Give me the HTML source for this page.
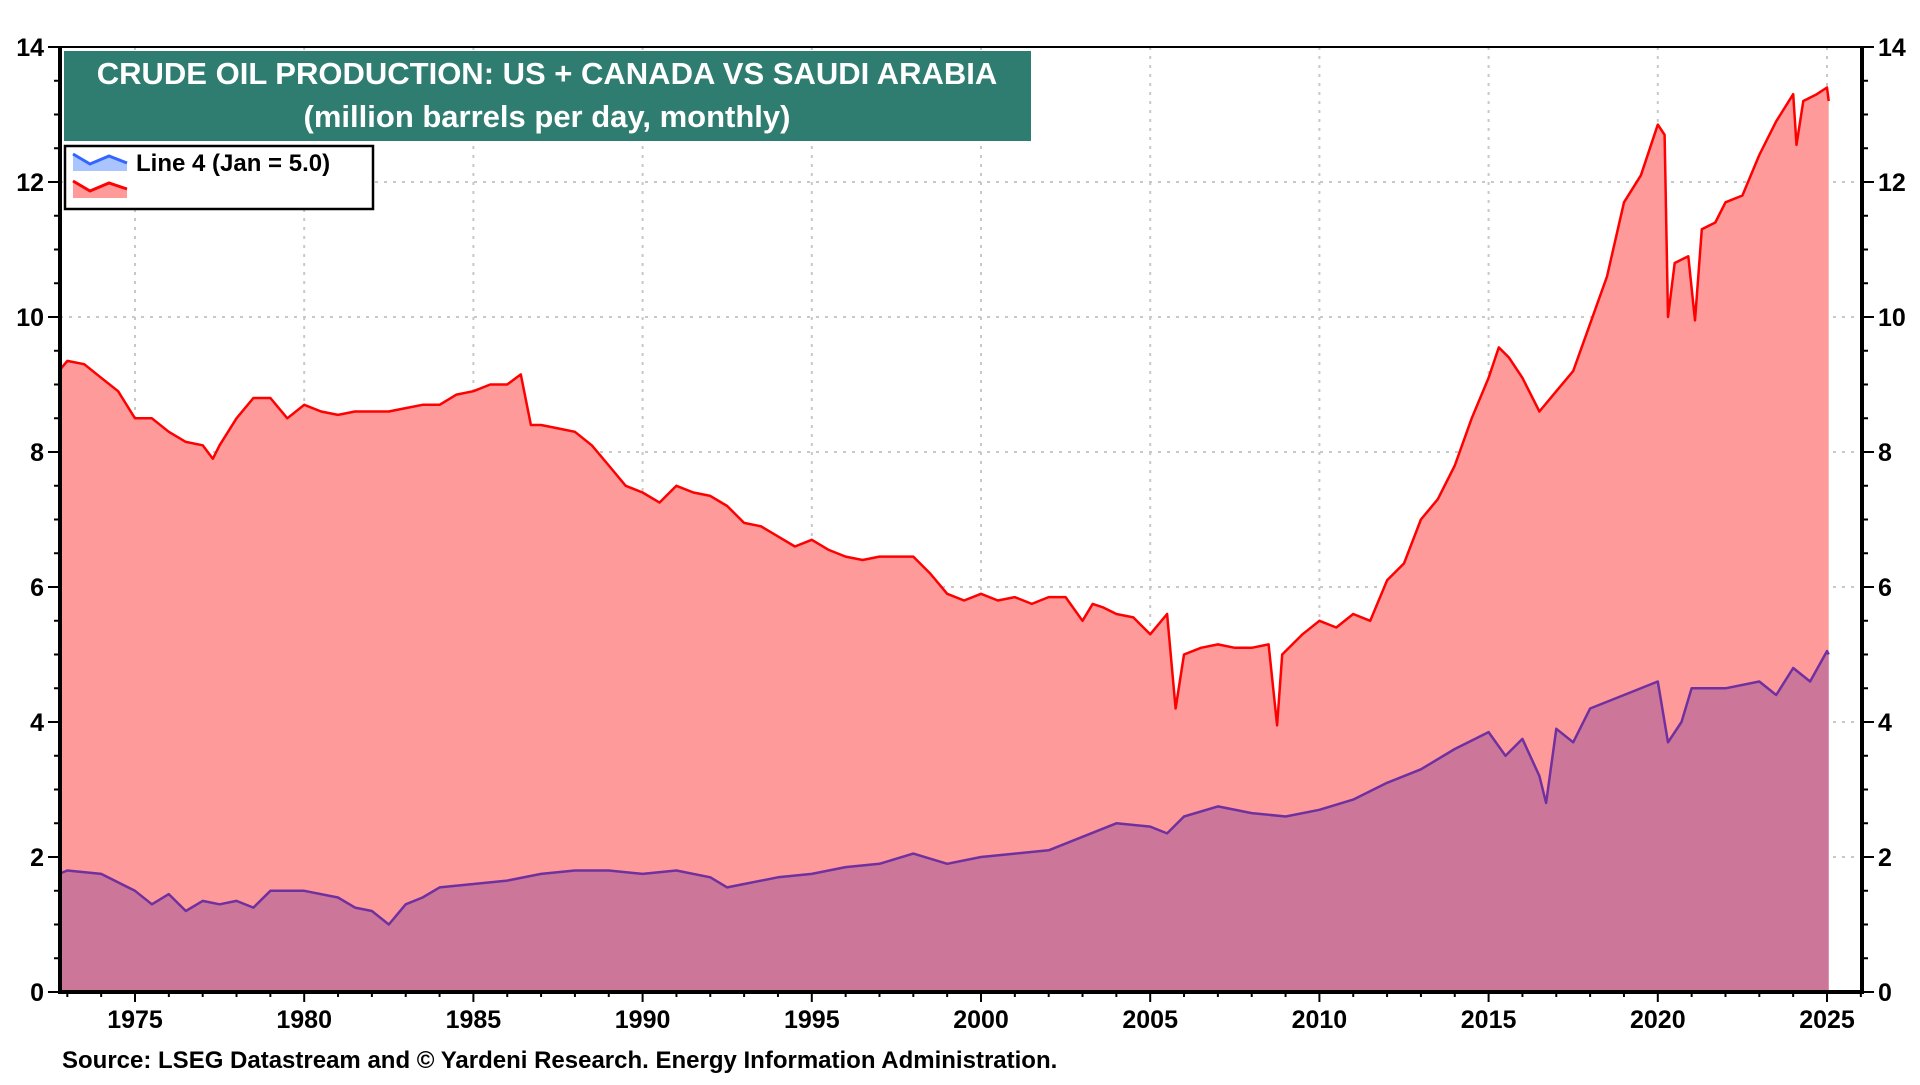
<!DOCTYPE html>
<html><head><meta charset="utf-8"><style>
body{margin:0;background:#fff;font-family:"Liberation Sans",Arial,sans-serif;}
svg text{font-family:"Liberation Sans",Arial,sans-serif;font-weight:bold;}
</style></head><body>
<svg id="chart" width="1920" height="1080" viewBox="0 0 1920 1080">
<g id="grid"></g>
<g id="areas"></g>
<g id="axes"></g>
<rect x="64" y="51" width="967" height="90" fill="#2e7d70"/>
<text x="547" y="84" text-anchor="middle" font-size="31" fill="#fff">CRUDE OIL PRODUCTION: US + CANADA VS SAUDI ARABIA</text>
<text x="547" y="127" text-anchor="middle" font-size="31" fill="#fff">(million barrels per day, monthly)</text>
<g>
<rect x="65" y="146" width="308" height="63" fill="#fff" stroke="#000" stroke-width="2.5"/>
<g>
<polygon points="73,154 90,164 109,156 127,163 127,171 73,171" fill="#aac4ff"/>
<polyline points="73,154 90,164 109,156 127,163" fill="none" stroke="#3366ff" stroke-width="3"/>
<text x="136" y="171" font-size="24" fill="#000">Line 4 (Jan = 5.0)</text>
</g>
<g>
<polygon points="73,181 90,191 109,183 127,189 127,198 73,198" fill="#ff9a9a"/>
<polyline points="73,181 90,191 109,183 127,189" fill="none" stroke="#ff0000" stroke-width="3"/>
</g>
</g>
<text x="62" y="1068" font-size="24" fill="#000">Source: LSEG Datastream and © Yardeni Research. Energy Information Administration.</text>
</svg>
<script>
const redYears=[1972.75,1973,1973.5,1974,1974.5,1975,1975.5,1976,1976.5,1977,1977.3,1977.5,1978,1978.5,1979,1979.5,1980,1980.5,1981,1981.5,1982,1982.5,1983,1983.5,1984,1984.5,1985,1985.5,1986,1986.4,1986.7,1987,1987.5,1988,1988.5,1989,1989.5,1990,1990.5,1991,1991.5,1992,1992.5,1993,1993.5,1994,1994.5,1995,1995.5,1996,1996.5,1997,1997.5,1998,1998.5,1999,1999.5,2000,2000.5,2001,2001.5,2002,2002.5,2003,2003.3,2003.6,2004,2004.5,2005,2005.5,2005.75,2006,2006.5,2007,2007.5,2008,2008.5,2008.75,2008.9,2009.5,2010,2010.5,2011,2011.5,2012,2012.5,2013,2013.5,2014,2014.5,2015,2015.3,2015.6,2016,2016.5,2017,2017.5,2018,2018.5,2019,2019.5,2020,2020.2,2020.3,2020.5,2020.9,2021.1,2021.3,2021.7,2022,2022.5,2023,2023.5,2024,2024.1,2024.3,2024.7,2025,2025.05];
const redValues=[9.2,9.35,9.3,9.1,8.9,8.5,8.5,8.3,8.15,8.1,7.9,8.1,8.5,8.8,8.8,8.5,8.7,8.6,8.55,8.6,8.6,8.6,8.65,8.7,8.7,8.85,8.9,9.0,9.0,9.15,8.4,8.4,8.35,8.3,8.1,7.8,7.5,7.4,7.25,7.5,7.4,7.35,7.2,6.95,6.9,6.75,6.6,6.7,6.55,6.45,6.4,6.45,6.45,6.45,6.2,5.9,5.8,5.9,5.8,5.85,5.75,5.85,5.85,5.5,5.75,5.7,5.6,5.55,5.3,5.6,4.2,5.0,5.1,5.15,5.1,5.1,5.15,3.95,5.0,5.3,5.5,5.4,5.6,5.5,6.1,6.35,7.0,7.3,7.8,8.5,9.1,9.55,9.4,9.1,8.6,8.9,9.2,9.9,10.6,11.7,12.1,12.85,12.7,10.0,10.8,10.9,9.95,11.3,11.4,11.7,11.8,12.4,12.9,13.3,12.55,13.2,13.3,13.4,13.2];
const purYears=[1972.75,1973,1974,1975,1975.5,1976,1976.5,1977,1977.5,1978,1978.5,1979,1980,1981,1981.5,1982,1982.5,1983,1983.5,1984,1985,1986,1987,1988,1989,1990,1991,1992,1992.5,1993,1994,1995,1996,1997,1998,1999,2000,2001,2002,2003,2004,2005,2005.5,2006,2007,2008,2009,2010,2011,2012,2013,2014,2015,2015.5,2016,2016.5,2016.7,2017,2017.5,2018,2019,2020,2020.3,2020.7,2021,2022,2023,2023.5,2024,2024.5,2025,2025.05];
const purValues=[1.75,1.8,1.75,1.5,1.3,1.45,1.2,1.35,1.3,1.35,1.25,1.5,1.5,1.4,1.25,1.2,1.0,1.3,1.4,1.55,1.6,1.65,1.75,1.8,1.8,1.75,1.8,1.7,1.55,1.6,1.7,1.75,1.85,1.9,2.05,1.9,2.0,2.05,2.1,2.3,2.5,2.45,2.35,2.6,2.75,2.65,2.6,2.7,2.85,3.1,3.3,3.6,3.85,3.5,3.75,3.2,2.8,3.9,3.7,4.2,4.4,4.6,3.7,4.0,4.5,4.5,4.6,4.4,4.8,4.6,5.05,5.0];
const yTicks=[0,2,4,6,8,10,12,14];
const xTicks=[1975,1980,1985,1990,1995,2000,2005,2010,2015,2020,2025];

const NS="http://www.w3.org/2000/svg";
const L=60,R=1862,T=47,B=992;
const X=yr=>135+(yr-1975)*33.84;
const Y=v=>B-(v/14)*(B-T);
function mk(tag,attrs,parent){const e=document.createElementNS(NS,tag);for(const k in attrs)e.setAttribute(k,attrs[k]);parent.appendChild(e);return e;}
const grid=document.getElementById('grid'),areas=document.getElementById('areas'),axes=document.getElementById('axes');
yTicks.forEach(v=>{if(v>0&&v<14){const g=mk('line',{x1:L,x2:R,y1:Y(v),y2:Y(v),stroke:'#c8c8c8','stroke-width':2,'stroke-dasharray':'3,6'},grid);

}});
xTicks.forEach(v=>{const g=mk('line',{x1:X(v),x2:X(v),y1:T,y2:B,stroke:'#c8c8c8','stroke-width':2,'stroke-dasharray':'3,6'},grid);

});
function area(xs,vs,fill,stroke,name){
 let pts=xs.map((x,i)=>X(x).toFixed(1)+','+Y(vs[i]).toFixed(1));
 const poly=mk('polygon',{points:X(xs[0]).toFixed(1)+','+B+' '+pts.join(' ')+' '+X(xs[xs.length-1]).toFixed(1)+','+B,fill:fill},areas);
 
 
 const ln=mk('polyline',{points:pts.join(' '),fill:'none',stroke:stroke,'stroke-width':2.5,'stroke-linejoin':'round'},areas);
 
 
}
area(redYears,redValues,'#ff9a9a','#ff0000','us-canada');
area(purYears,purValues,'#cc7799','#7030a0','saudi-arabia');
const fr=mk('path',{d:`M${L},${T} L${L},${B} L${R},${B} L${R},${T}`,fill:'none',stroke:'#000','stroke-width':4},axes);


mk('line',{x1:L,x2:R,y1:T,y2:T,stroke:'#000','stroke-width':2},axes);
for(let v=0;v<=14;v+=0.5){const y=Y(v),big=(v%2===0);
 mk('line',{x1:L-(big?12:6),x2:L,y1:y,y2:y,stroke:'#000','stroke-width':2},axes);
 mk('line',{x1:R,x2:R+(big?12:6),y1:y,y2:y,stroke:'#000','stroke-width':2},axes);}
yTicks.forEach(v=>{
 const t1=mk('text',{x:L-16,y:Y(v)+9,'text-anchor':'end','font-size':25},axes);t1.textContent=v;
 
 
 const t2=mk('text',{x:R+16,y:Y(v)+9,'text-anchor':'start','font-size':25},axes);t2.textContent=v;
 
 
});
for(let yr=1973;yr<=2026;yr++){const x=X(yr);if(x<L||x>R)continue;
 mk('line',{x1:x,x2:x,y1:B,y2:B+(yr%5===0?10:5),stroke:'#000','stroke-width':2},axes);}
xTicks.forEach(v=>{const t=mk('text',{x:X(v),y:1028,'text-anchor':'middle','font-size':25},axes);t.textContent=v;
 
 });
</script>
</body></html>
